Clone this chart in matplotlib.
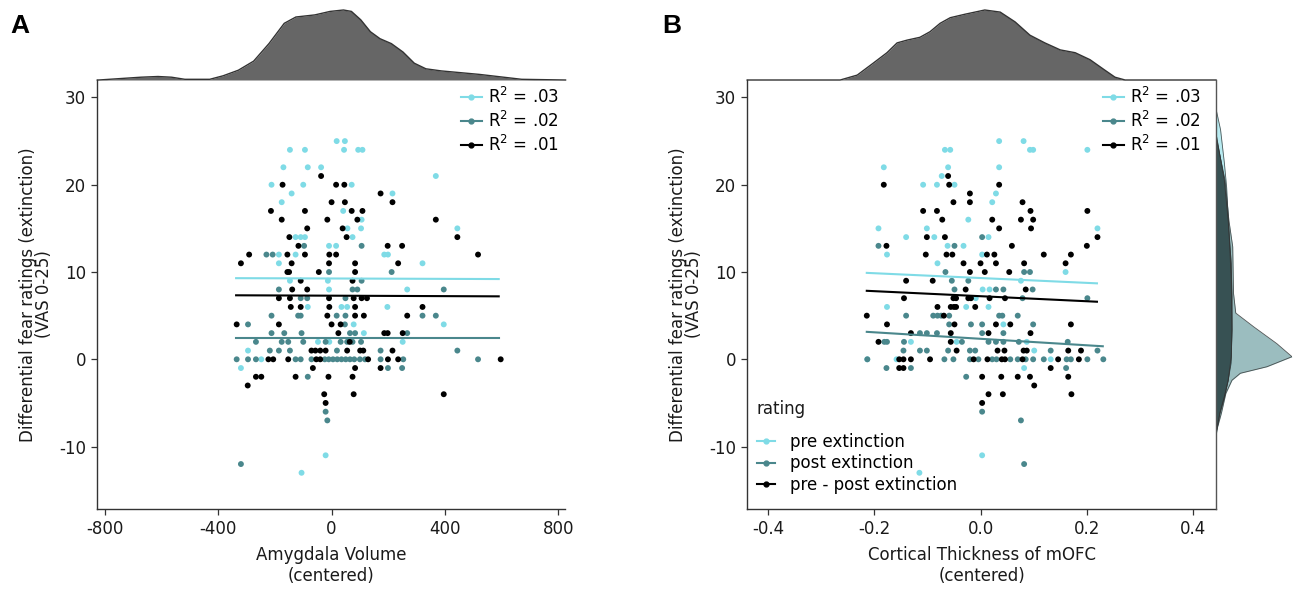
import numpy as np
import matplotlib
matplotlib.use("Agg")
import matplotlib.pyplot as plt
from matplotlib.lines import Line2D

plt.rcParams['font.family'] = ['DejaVu Sans']
plt.rcParams['axes.unicode_minus'] = False
plt.rcParams['mathtext.fontset'] = 'dejavusans'

# ---------------- data ----------------
series_names = ["pre extinction", "post extinction", "pre - post extinction"]
series_colors = ["#7fdbe6", "#4a878c", "#000000"]
r2_labels = [".03", ".02", ".01"]

# Panel A: Amygdala volume (centered) vs rating
A_pre_x = [18, 47, -147, -94, 44, 94, 109, -170, -84, -37, 368, -212, -100, 71, -141, 215, -176, 41, 106,
           56, 104, 444, -127, -109, -94, 74, -9, 16, -186, -127, 186, 199, -186, 321, -147, -13, -9, 267,
           -84, 35, 55, 197, 78, 396, 114, -48, -8, 251, -295, -248, -320, -21, -106]
A_pre_y = [25, 25, 24, 24, 24, 24, 24, 22, 22, 22, 21, 20, 20, 20, 19, 19, 18, 17, 16,
           15, 15, 15, 14, 14, 14, 14, 13, 13, 12, 12, 12, 12, 11, 11, 9, 9, 8, 8,
           6, 6, 6, 6, 4, 4, 3, 2, 2, 2, 1, 0, -1, -11, -13]
A_post_x = [-97, 106, -230, -208, -9, 212, 106, -186, 74, 91, 396, -109, -86, 49,
            -212, -118, -109, 18, 49, 321, 368, -295, 47, -212, -167, -106, 65, 83, 267,
            -267, -176, -153, -100, -21, 32, 55, 74, 104, -218, -186, -147, 19, 173, 444,
            -335, -295, -267, -127, -109, -71, -24, -10, 5, 20, 35, 50, 65, 80, 100, 118, 173, 253, 517,
            199, 249, -84, -21, -15, -320]
A_post_y = [13, 13, 12, 12, 10, 10, 9, 8, 8, 8, 8, 7, 7, 7,
            5, 5, 5, 5, 5, 5, 5, 4, 4, 3, 3, 3, 3, 3, 3,
            2, 2, 2, 2, 2, 2, 2, 2, 2, 1, 1, 1, 1, 1, 1,
            0, 0, 0, 0, 0, 0, 0, 0, 0, 0, 0, 0, 0, 0, 0, 0, 0, 0, 0,
            -1, -1, -2, -6, -7, -12]
A_diff_x = [-37, -173, 16, 45, 173, 0, 47, 215, -214, -94, 71, 109, -176, -15, 91, 368, -86, 39,
            -149, 53, 444, -117, 198, 249, -291, -156, -94, -8, 16, 517, -320, -141, -9, 83, 235,
            -156, -150, -45, 83, -109, 74, -139, -86, -186, -147, -9, 78, 106, 125,
            -144, -109, -8, 83, 321, -15, 83, 114, 267, -335, -186, 0, 32, 24, 186, 198, 251, 64,
            -71, -57, -40, -21, 55, 101, 112, 215, -223, -206, -153, -54, -40, 129, 199, 235, 597,
            -66, 83, 173, -267, -248, -127, -11, 74, -296, -26, 78, 396, -21]
A_diff_y = [21, 20, 20, 20, 19, 18, 18, 18, 17, 17, 17, 17, 16, 16, 16, 16, 15, 15,
            14, 14, 14, 13, 13, 13, 12, 12, 12, 12, 12, 12, 11, 11, 11, 11, 11,
            10, 10, 10, 10, 9, 9, 8, 8, 7, 7, 7, 7, 7, 7,
            6, 6, 6, 6, 6, 5, 5, 5, 5, 4, 4, 4, 4, 3, 3, 3, 3, 2,
            1, 1, 1, 1, 1, 1, 1, 1, 0, 0, 0, 0, 0, 0, 0, 0, 0,
            -1, -1, -1, -2, -2, -2, -2, -2, -3, -4, -4, -4, -5]

# Panel B: cortical thickness of mOFC (centered) vs rating
B_pre_x = [0.035, 0.081, -0.067, -0.057, 0.093, 0.099, 0.201, -0.182, -0.061, 0.035, -0.073,
           -0.108, -0.082, -0.049, 0.029, 0.022, -0.023, -0.192, -0.101, 0.220, -0.140, -0.087, 0.015,
           -0.062, -0.032, -0.176, 0.003, -0.081, 0.160, 0.076, 0.004, 0.017, -0.009,
           -0.176, -0.027, 0.015, 0.043, -0.131, -0.045, 0.087, 0.101, -0.158, 0.132, -0.213,
           0.082, 0.003, -0.115]
B_pre_y = [25, 25, 24, 24, 24, 24, 24, 22, 22, 22, 21,
           20, 20, 20, 19, 18, 16, 15, 15, 15, 14, 14, 14,
           13, 13, 12, 12, 11, 10, 9, 8, 8, 7,
           6, 6, 6, 4, 2, 2, 2, 1, 0, 0, 0,
           -1, -11, -13]
B_post_x = [0.003, -0.192, -0.049, -0.066, 0.082, 0.093, -0.054, -0.023, -0.049, 0.029, 0.043, 0.098,
            0.079, 0.201, -0.140, -0.089, -0.081, -0.074, -0.059, 0.035, 0.041, 0.070,
            -0.059, -0.018, 0.003, 0.099, -0.114, -0.101, -0.082, 0.003, 0.043,
            -0.181, -0.176, -0.144, -0.035, 0.015, 0.029, 0.043, 0.072, 0.164,
            -0.145, -0.114, -0.101, -0.061, -0.020, -0.010, 0.132, 0.220,
            -0.213, -0.068, -0.051, -0.020, -0.004, 0.022, 0.030, 0.056, 0.070, 0.085, 0.099, 0.119,
            0.162, 0.170, 0.201, 0.231, -0.177, -0.131, 0.161, -0.027, 0.003, 0.076, 0.082]
B_post_y = [14, 13, 13, 10, 10, 10, 9, 9, 8, 8, 8, 8,
            7, 7, 5, 5, 5, 5, 5, 5, 5, 5,
            4, 4, 4, 4, 3, 3, 3, 3, 3,
            2, 2, 2, 2, 2, 2, 2, 2, 2,
            1, 1, 1, 1, 1, 1, 1, 1,
            0, 0, 0, 0, 0, 0, 0, 0, 0, 0, 0, 0,
            0, 0, 0, 0, -1, -1, -1, -2, -6, -7, -12]
B_diff_x = [-0.061, -0.182, -0.059, 0.035, -0.020, -0.051, -0.020, 0.079, -0.108, -0.082, 0.094, 0.201,
            -0.072, 0.022, 0.076, 0.099, 0.035, 0.095, -0.101, -0.067, 0.220, -0.177, 0.059, 0.200,
            -0.103, -0.064, -0.053, 0.012, 0.026, 0.119, 0.170, -0.032, 0.000, 0.029, 0.082, 0.160,
            -0.020, 0.008, 0.054, -0.140, -0.090, -0.028, 0.085,
            -0.144, -0.051, -0.046, -0.023, -0.018, 0.017, 0.046, -0.081, -0.056, -0.050, -0.046, -0.010,
            -0.214, -0.069, -0.176, -0.049, 0.029, 0.056, 0.170, -0.131, -0.056, 0.015, 0.094,
            -0.192, -0.056, -0.045, 0.032, 0.045, 0.081, 0.087, 0.165, 0.189,
            -0.153, -0.145, -0.131, -0.095, -0.013, 0.013, 0.040, 0.046, 0.079, 0.146, 0.185,
            -0.153, -0.145, 0.132, 0.003, 0.039, 0.070, 0.093, 0.165, 0.101, 0.015, 0.042, 0.171, 0.003]
B_diff_y = [21, 20, 20, 20, 19, 18, 18, 18, 17, 17, 17, 17,
            16, 16, 16, 16, 15, 15, 14, 14, 14, 13, 13, 13,
            12, 12, 12, 12, 12, 12, 12, 11, 11, 11, 11, 11,
            10, 10, 10, 9, 9, 8, 8,
            7, 7, 7, 7, 7, 7, 7, 6, 6, 6, 6, 6,
            5, 5, 4, 4, 4, 4, 4, 3, 3, 3, 3,
            2, 2, 1, 1, 1, 1, 1, 1, 1,
            0, 0, 0, 0, 0, 0, 0, 0, 0, 0, 0,
            -1, -1, -1, -2, -2, -2, -2, -2, -3, -4, -4, -4, -5]

# regression fits: intercept, slope, x-range
A_fit_intercept = [9.26, 2.46, 7.29]
A_fit_slope = [-0.00011, 0.0, -0.00013]
A_fit_range = [[-337, 590], [-337, 590], [-337, 590]]
B_fit_intercept = [9.31, 2.35, 7.23]
B_fit_slope = [-2.77, -3.72, -2.89]
B_fit_range = [[-0.214, 0.219], [-0.214, 0.230], [-0.214, 0.219]]

# marginal density of predictors (relative height)
A_dens_x = [-827, -822, -673, -613, -565, -518, -430, -383, -329, -275, -221, -167, -126, -59, -5, 42,
            70, 103, 137, 171, 211, 252, 292, 333, 387, 522, 671, 826]
A_dens_y = [0, 0, .04, .05, .04, .01, .01, .06, .14, .27, .52, .81, .90, .93, .98, 1.0,
            .98, .86, .69, .59, .52, .40, .24, .16, .13, .08, .01, 0]
B_dens_x = [-0.439, -0.264, -0.232, -0.202, -0.176, -0.157, -0.138, -0.114, -0.095, -0.076, -0.057,
            -0.029, 0.008, 0.037, 0.065, 0.093, 0.121, 0.150, 0.178, 0.206, 0.234, 0.253, 0.272, 0.443]
B_dens_y = [0, 0, .07, .24, .39, .53, .57, .61, .69, .81, .89, .94, 1.0, .97, .83, .64, .53, .43,
            .39, .29, .14, .04, 0, 0]

# marginal density of ratings per series (panel B, right side)
R_pre_v = [28.7, 26.3, 22.5, 19.7, 14.8, 9.1, 3.4, -0.4, -2.4, -4.3, -6.2, -8.1, -9.2]
R_pre_d = [0, .06, .11, .14, .17, .20, .21, .20, .16, .11, .05, .01, 0]
R_post_v = [25.5, 20.5, 15.9, 12.9, 7.6, 5.3, 3.7, 1.8, 0.3, -0.85, -1.6, -2.4, -3.9, -6.2, -8.1, -9.2]
R_post_d = [0, .12, .17, .22, .23, .26, .50, .80, 1.0, .67, .32, .21, .13, .07, .01, 0]
R_diff_v = [25.9, 20.5, 15.9, 11.0, 7.2, 3.4, 0.3, -2.4, -4.3, -6.2, -8.1, -9.0]
R_diff_d = [0, .11, .16, .20, .21, .21, .20, .16, .11, .05, .01, 0]

# ---------------- figure ----------------
W, H = 1295, 589
fig = plt.figure(figsize=(W / 100, H / 100), dpi=100)

def box(l, t, r, b):
    return [l / W, 1 - b / H, (r - l) / W, (b - t) / H]

axA = fig.add_axes(box(97.3, 80, 565, 509))
axA_top = fig.add_axes(box(97.3, 10, 565, 80))
axB = fig.add_axes(box(747.3, 80, 1216, 509))
axB_top = fig.add_axes(box(747.3, 10, 1216, 80))
axB_right = fig.add_axes(box(1216, 80, 1292, 509))

spine_col = "#333333"
text_col = "#1a1a1a"
fs = 12

def style_main(ax):
    for s in ["top", "right"]:
        ax.spines[s].set_visible(False)
    for s in ["left", "bottom"]:
        ax.spines[s].set_color(spine_col)
        ax.spines[s].set_linewidth(1.0)
    ax.tick_params(direction="out", length=4, width=0.9, color=spine_col,
                   labelsize=fs, labelcolor=text_col, pad=4)
    ax.set_ylim(-17.15, 32.0)
    ax.set_yticks([-10, 0, 10, 20, 30])

def draw_panel(ax, xs_list, ys_list, icpt, slope, rng):
    for xs, ys, c in zip(xs_list, ys_list, series_colors):
        ax.scatter(xs, ys, s=18, color=c, edgecolors="none", zorder=2)
    for b0, b1, r, c in zip(icpt, slope, rng, series_colors):
        xx = np.array(r)
        ax.plot(xx, b0 + b1 * xx, color=c, lw=1.5, zorder=3)

style_main(axA)
draw_panel(axA, [A_pre_x, A_post_x, A_diff_x], [A_pre_y, A_post_y, A_diff_y],
           A_fit_intercept, A_fit_slope, A_fit_range)
axA.set_xlim(-827, 824)
axA.set_xticks([-800, -400, 0, 400, 800])

style_main(axB)
draw_panel(axB, [B_pre_x, B_post_x, B_diff_x], [B_pre_y, B_post_y, B_diff_y],
           B_fit_intercept, B_fit_slope, B_fit_range)
axB.set_xlim(-0.4388, 0.443)
axB.set_xticks([-0.4, -0.2, 0.0, 0.2, 0.4])
axB.set_xticklabels(["-0.4", "-0.2", "0.0", "0.2", "0.4"])

ylab = "Differential fear ratings (extinction)\n(VAS 0-25)"
for ax, xl in [(axA, "Amygdala Volume\n(centered)"), (axB, "Cortical Thickness of mOFC\n(centered)")]:
    ax.set_ylabel(ylab, fontsize=fs, color=text_col, linespacing=0.9)
    ax.set_xlabel(xl, fontsize=fs, color=text_col, linespacing=1.15, labelpad=6)
    ax.yaxis.set_label_coords(-0.094, 0.5)

# top densities
for ax, dx, dy, xl in [(axA_top, A_dens_x, A_dens_y, (-827, 824)),
                       (axB_top, B_dens_x, B_dens_y, (-0.4388, 0.443))]:
    ax.fill_between(dx, 0, dy, color="#666666", lw=0)
    ax.plot(dx, dy, color="#333333", lw=1.0, clip_on=False)
    ax.set_xlim(*xl)
    ax.set_ylim(0, 1.0)
    ax.axis("off")

# right densities (panel B)
for v, d, c in [(R_pre_v, R_pre_d, series_colors[0]),
                (R_post_v, R_post_d, series_colors[1]),
                (R_diff_v, R_diff_d, series_colors[2])]:
    axB_right.fill_betweenx(v, 0, d, color=c, alpha=0.55, lw=0)
    axB_right.plot(d, v, color="#333333", lw=0.6, alpha=0.8)
axB_right.set_ylim(-17.15, 32.0)
axB_right.set_xlim(0, 1.0)
for s in ["top", "right", "bottom"]:
    axB_right.spines[s].set_visible(False)
axB_right.spines["left"].set_color("#555555")
axB_right.spines["left"].set_linewidth(1.0)
axB_right.set_xticks([])
axB_right.set_yticks([])
axB_right.patch.set_alpha(0)

# R^2 legends
def handles():
    return [Line2D([0], [0], color=c, lw=1.5, marker="o", markersize=3.5) for c in series_colors]

r2_texts = [r"R$^{2}$ = " + v for v in r2_labels]
for x0 in [461 / W, 1103 / W]:
    fig.legend(handles(), r2_texts, loc="upper left", bbox_to_anchor=(x0, 1 - 87 / H),
               frameon=False, fontsize=fs, handlelength=1.25, handletextpad=0.4,
               labelspacing=0.22, borderpad=0, borderaxespad=0)

fig.text(756 / W, 1 - 409 / H, "rating", fontsize=fs, color=text_col, va="center", ha="left")
fig.legend(handles(), series_names, loc="upper left", bbox_to_anchor=(757 / W, 1 - 433 / H),
           frameon=False, fontsize=fs, handlelength=1.05, handletextpad=0.95, labelspacing=0.2,
           borderpad=0, borderaxespad=0)

fig.text(10 / W, 1 - 26 / H, "A", fontsize=19, fontweight="bold", va="center", ha="left",
         family="Liberation Sans")
fig.text(662 / W, 1 - 26 / H, "B", fontsize=19, fontweight="bold", va="center", ha="left",
         family="Liberation Sans")

fig.savefig("out.png", dpi=100)
